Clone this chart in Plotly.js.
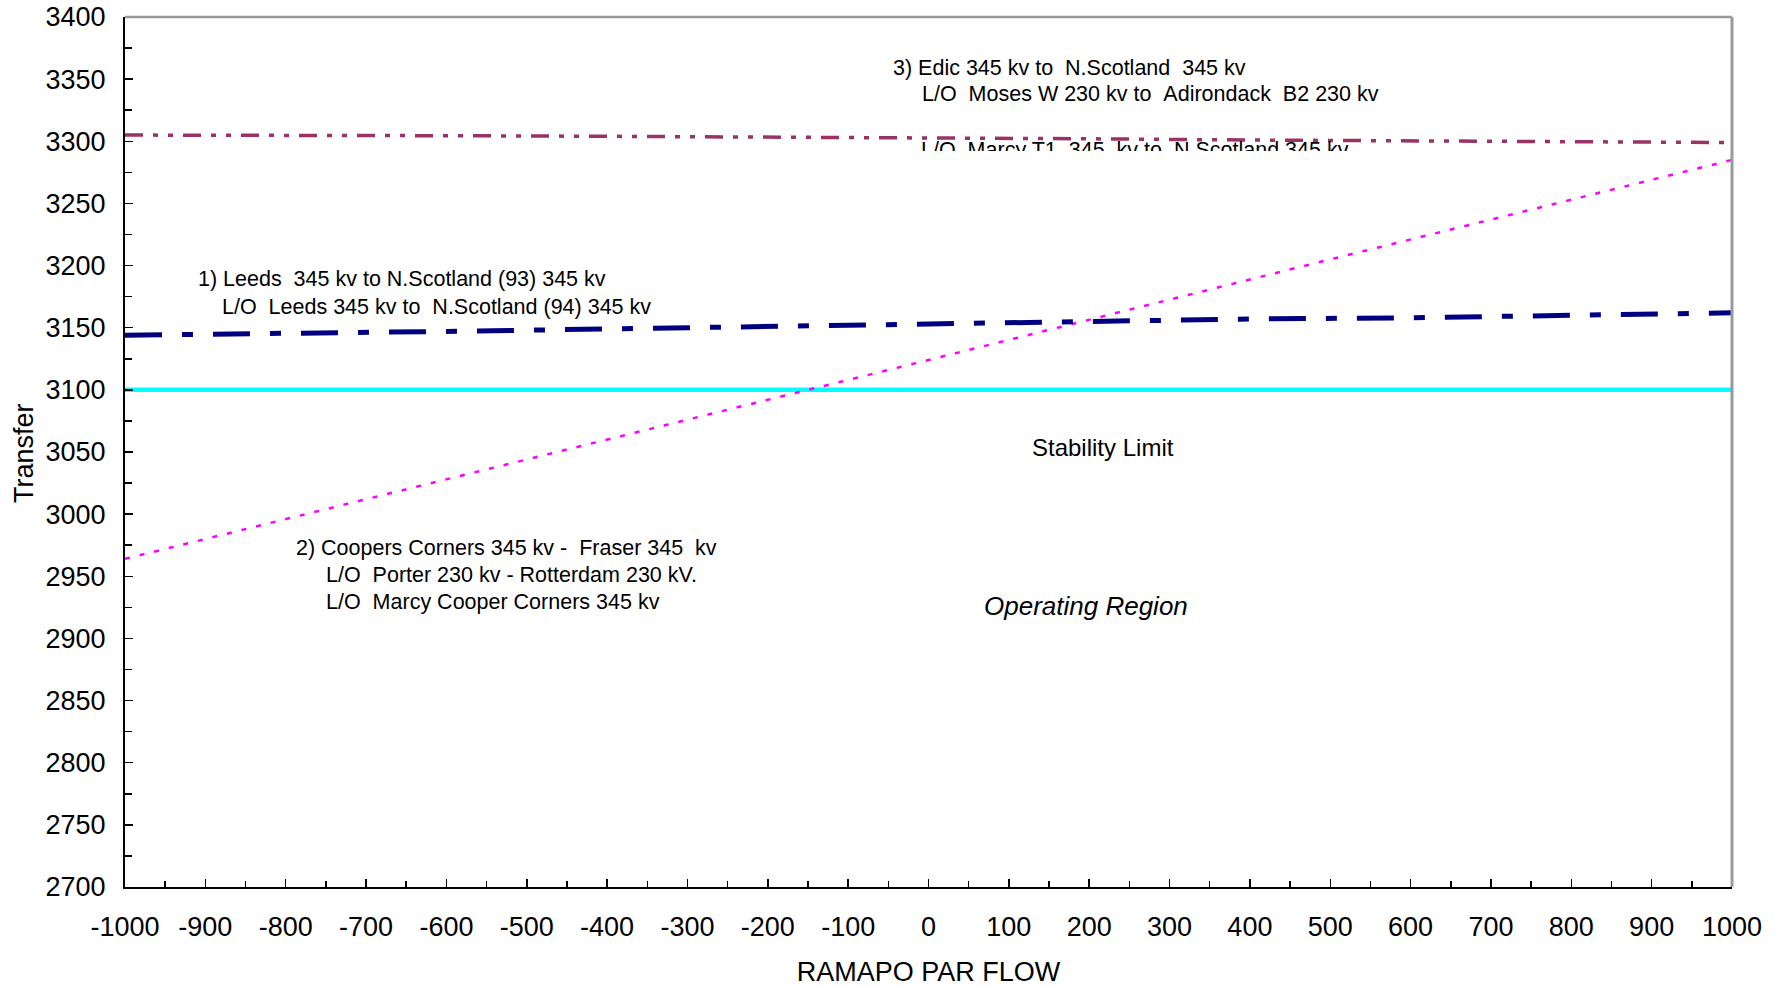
<!DOCTYPE html>
<html><head><meta charset="utf-8">
<script src="https://cdn.plot.ly/plotly-3.0.1.min.js"></script>
<style>html,body{margin:0;padding:0;background:#fff}#chart{width:1777px;height:987px}</style>
</head><body><div id="chart"></div>
<script>
// ---- data ----
const flow = [-1000, -800, -600, -400, -200, 0, 200, 400, 600, 800, 1000];
const leeds = [3144, 3145, 3147, 3149, 3151, 3153, 3155, 3157, 3158, 3160, 3162];
const edic = [3305, 3305, 3304.5, 3304, 3303.5, 3302.5, 3302, 3301, 3300.5, 3300, 3299];
const coopersFlow = [-1000, -500, 0, 500, 1000];
const coopers = [2964, 3044, 3124, 3205, 3285];
const stabFlow = [-1000, 1000];
const stabLimit = [3100, 3100];
const xTickVals = [-1000,-900,-800,-700,-600,-500,-400,-300,-200,-100,0,100,200,300,400,500,600,700,800,900,1000];
const xTickText = ["-1000","-900","-800","-700","-600","-500","-400","-300","-200","-100","0","100","200","300","400","500","600","700","800","900","1000"];
const yTickVals = [2700,2750,2800,2850,2900,2950,3000,3050,3100,3150,3200,3250,3300,3350,3400];
const yTickText = ["2700","2750","2800","2850","2900","2950","3000","3050","3100","3150","3200","3250","3300","3350","3400"];
const leedsLabel = ["1) Leeds  345 kv to N.Scotland (93) 345 kv", "L/O  Leeds 345 kv to  N.Scotland (94) 345 kv"];
const coopersLabel = ["2) Coopers Corners 345 kv -  Fraser 345  kv", "L/O  Porter 230 kv - Rotterdam 230 kV.", "L/O  Marcy Cooper Corners 345 kv"];
const edicLabel = ["3) Edic 345 kv to  N.Scotland  345 kv", "L/O  Moses W 230 kv to  Adirondack  B2 230 kv", "L/O  Marcy T1  345  kv to  N.Scotland 345 kv"];
const stabText = "Stability Limit";
const regionText = "Operating Region";
const xTitle = "RAMAPO PAR FLOW";
const yTitle = "Transfer";

const FONT = "Liberation Sans, Arial, sans-serif";
const sp = s => s.replace(/  /g, " \u00a0");

const traces = [
  {x: stabFlow, y: stabLimit, mode: "lines", name: "Stability Limit",
   line: {color: "#00FFFF", width: 4.5}},
  {x: coopersFlow, y: coopers, mode: "lines", name: "2) Coopers Corners",
   line: {color: "#FF00FF", width: 2.5, dash: "5px,10px"}},
  {x: flow, y: edic, mode: "lines", name: "3) Edic",
   line: {color: "#993366", width: 3.5, dash: "18px,10px,5px,10px,5px,10px"}},
  {x: flow, y: leeds, mode: "lines", name: "1) Leeds",
   line: {color: "#000080", width: 5, dash: "37px,20px,11px,20px"}}
];

function ann(text, x, y, size, extra) {
  return Object.assign({x: x, y: y, xref: "x", yref: "y", text: sp(text), showarrow: false,
    xanchor: "left", yanchor: "middle", font: {family: FONT, size: size, color: "#000"}}, extra || {});
}

const annotations = [
  ann(leedsLabel[0], -911.5, 3189.0, 21.5),
  ann(leedsLabel[1], -881.7, 3166.9, 21.5),
  ann(coopersLabel[0], -789.9, 2972.8, 21.5),
  ann(coopersLabel[1], -751.9, 2951.3, 21.5),
  ann(coopersLabel[2], -751.9, 2929.3, 21.5),
  ann(edicLabel[0], -46.6, 3359.1, 21.5),
  ann(edicLabel[1], -10.8, 3338.0, 21.5),
  ann(edicLabel[2], -10.8, 3303.8, 21.5, {yanchor: "top", valign: "top", height: 13, borderpad: 0}),
  ann(stabText, 216.6, 3053.8, 24, {xanchor: "center"}),
  ann(regionText, 195.8, 2926.3, 26, {xanchor: "center", text: "<i>" + regionText + "</i>"}),
  {xref: "paper", yref: "paper", x: (24 - 125) / 1607, y: 0.4989, xanchor: "center", yanchor: "middle",
   text: yTitle, textangle: -90, showarrow: false, font: {family: FONT, size: 27, color: "#000"}}
];

const layout = {
  width: 1777, height: 987,
  margin: {l: 125, r: 45, t: 17, b: 100, pad: 0},
  paper_bgcolor: "#fff", plot_bgcolor: "#fff",
  showlegend: false,
  font: {family: FONT, size: 27, color: "#000"},
  xaxis: {range: [-1000, 1000], tickvals: xTickVals, ticktext: xTickText,
    showgrid: false, zeroline: false, showline: true, linecolor: "#000", linewidth: 2,
    ticks: "inside", ticklen: 8, tickwidth: 1.5, tickcolor: "#000",
    minor: {dtick: 50, ticks: "inside", ticklen: 6, tickwidth: 1.5, tickcolor: "#000", showgrid: false},
    tickfont: {family: FONT, size: 27, color: "#000"}, ticklabelstandoff: 15,
    title: {text: xTitle, font: {family: FONT, size: 27, color: "#000"}, standoff: 24},
    automargin: false, fixedrange: true},
  yaxis: {range: [2700, 3400], tickvals: yTickVals, ticktext: yTickText,
    showgrid: false, zeroline: false, showline: true, linecolor: "#000", linewidth: 2,
    ticks: "inside", ticklen: 8, tickwidth: 1.5, tickcolor: "#000",
    minor: {dtick: 25, ticks: "inside", ticklen: 7, tickwidth: 1.5, tickcolor: "#000", showgrid: false},
    tickfont: {family: FONT, size: 27, color: "#000"}, ticklabelstandoff: 12,
    automargin: false, fixedrange: true},
  shapes: [
    {type: "line", xref: "paper", yref: "paper", x0: 0, x1: 1, y0: 1, y1: 1, line: {color: "#999999", width: 2.5}},
    {type: "line", xref: "paper", yref: "paper", x0: 1, x1: 1, y0: 0, y1: 1, line: {color: "#999999", width: 3}}
  ],
  annotations: annotations
};

Plotly.newPlot("chart", traces, layout, {displayModeBar: false, staticPlot: true});
</script>
</body></html>
